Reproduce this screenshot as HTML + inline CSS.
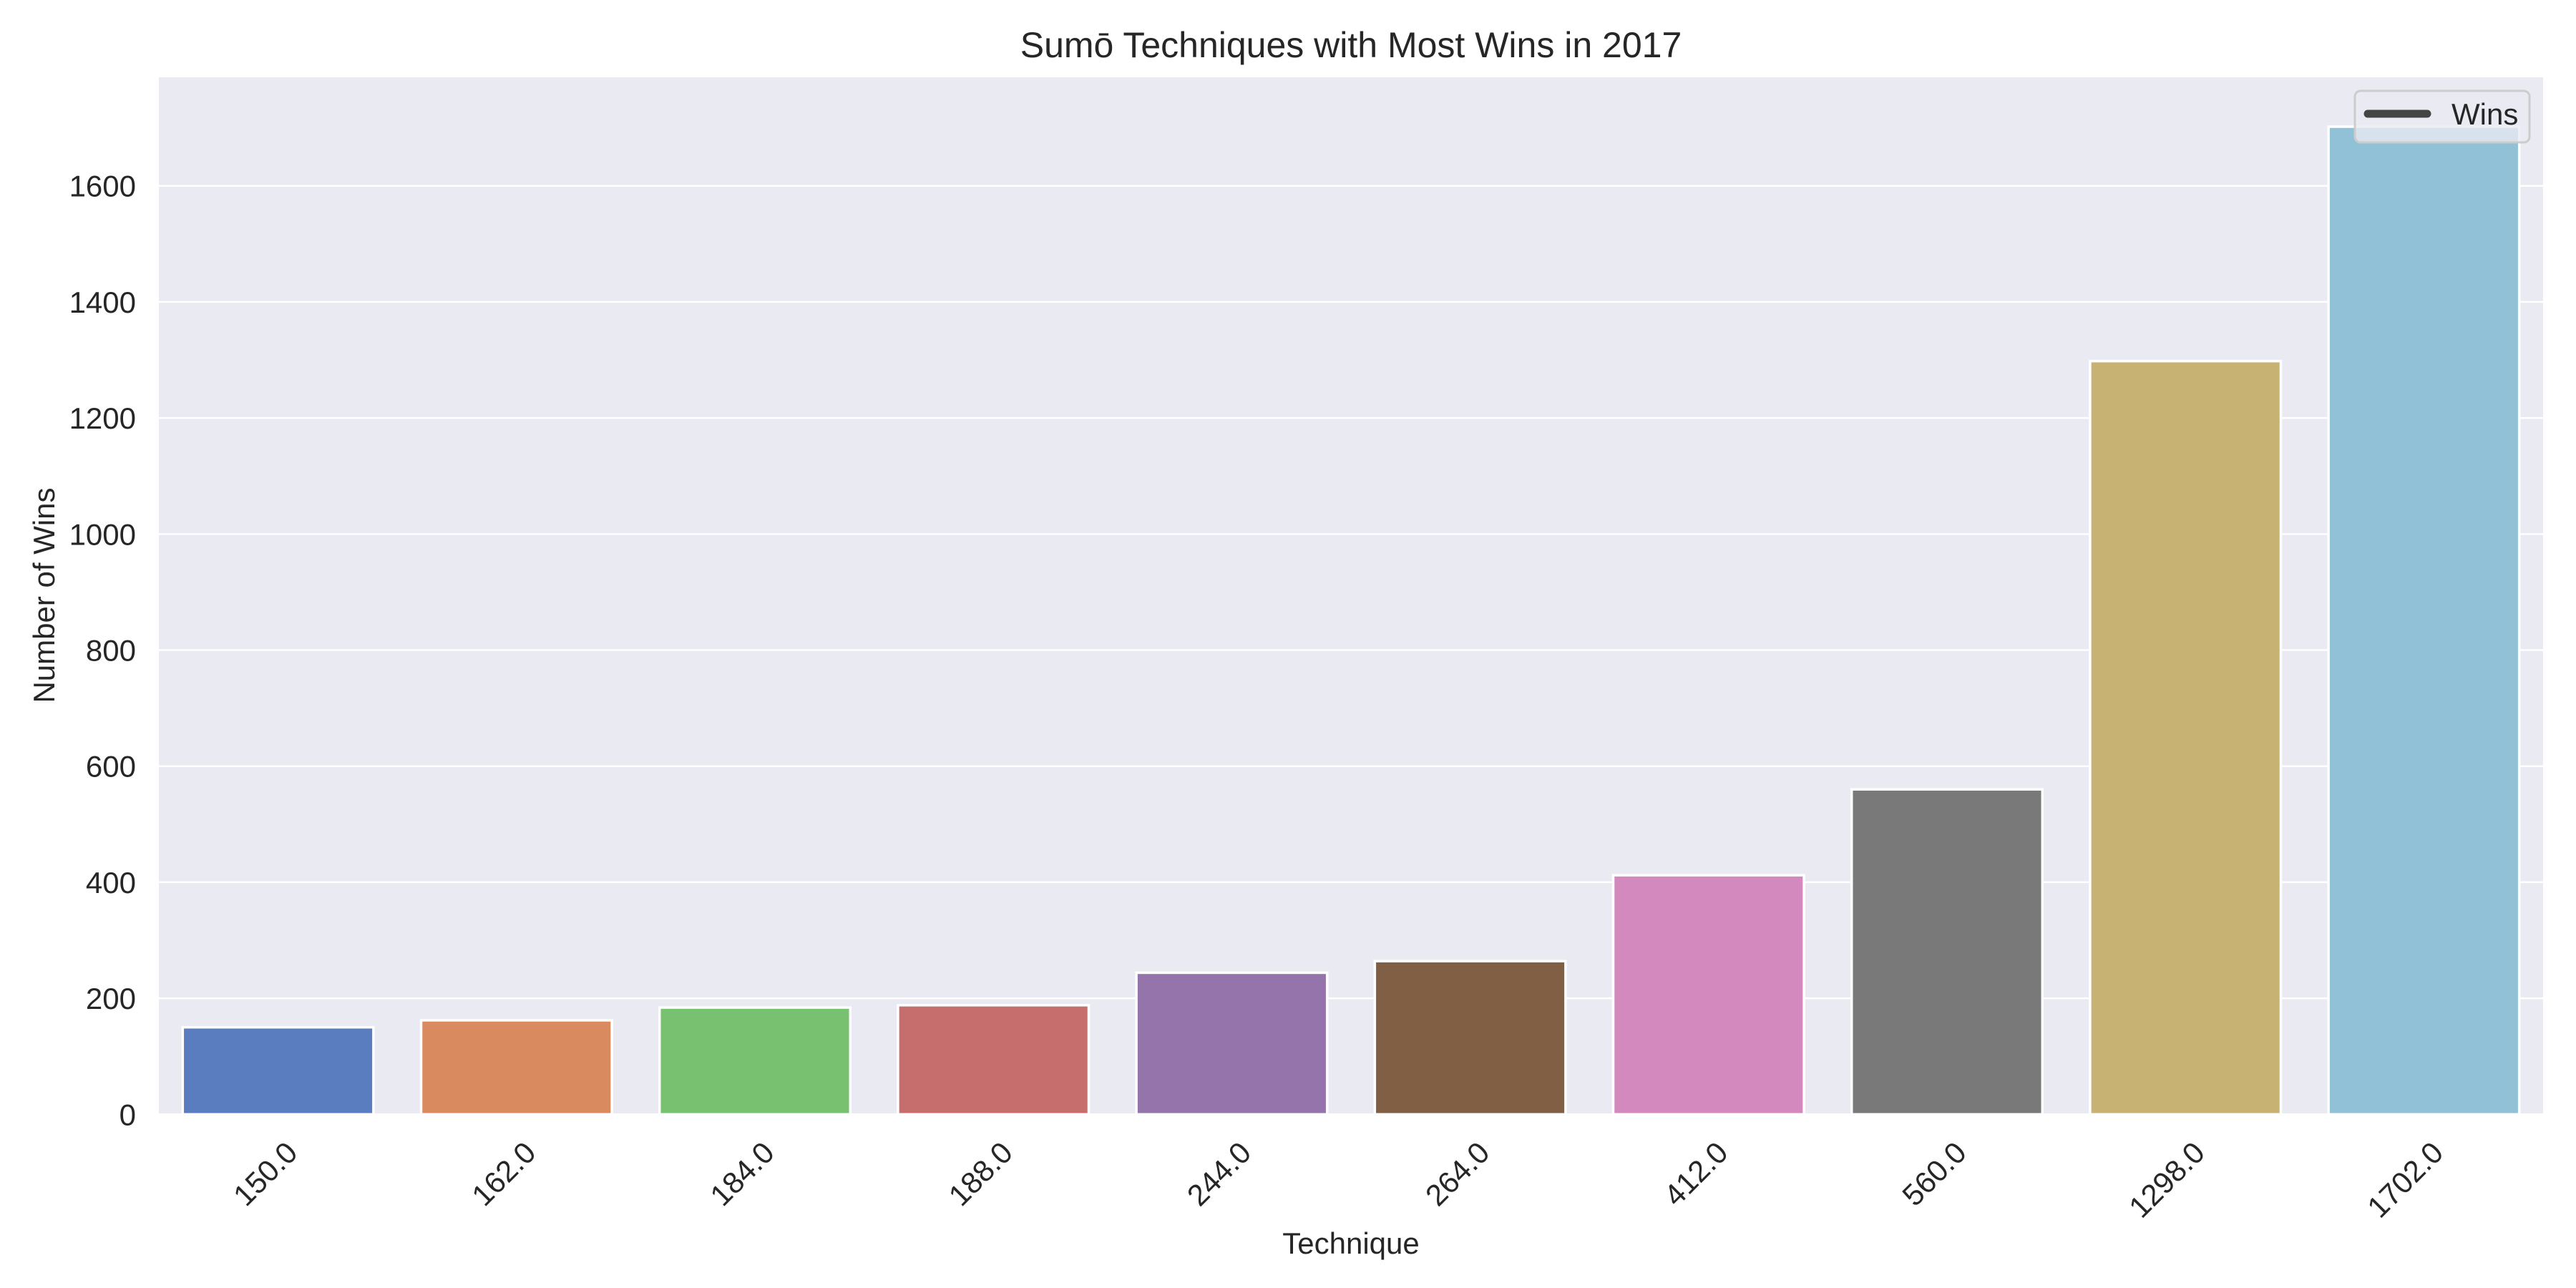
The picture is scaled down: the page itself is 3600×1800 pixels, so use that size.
<!DOCTYPE html>
<html><head><meta charset="utf-8"><style>
html,body{margin:0;padding:0;background:#fff;}
svg{display:block;font-family:"Liberation Sans",Arial,sans-serif;}
</style></head><body>
<svg id="chart" width="3600" height="1800" viewBox="0 0 3600 1800" xmlns="http://www.w3.org/2000/svg">
<rect width="3600" height="1800" fill="#fff"/>
<rect x="222" y="108" width="3332" height="1449.5" fill="#eaeaf2"/>
<g id="grid"></g>
<g id="bars"></g>
<g id="yticks"></g>
<g id="xticks"></g>
<text x="1888" y="80" font-size="50" text-anchor="middle" fill="#262626">Sumō Techniques with Most Wins in 2017</text>
<text x="1888" y="1752" font-size="42" text-anchor="middle" fill="#262626">Technique</text>
<text transform="translate(76,832) rotate(-90)" font-size="42" text-anchor="middle" fill="#262626">Number of Wins</text>
<g>
<rect x="3291" y="127" width="244" height="72" rx="8" fill="rgba(234,234,242,0.8)" stroke="#cccccc" stroke-width="3"/>
<line x1="3309" y1="159" x2="3392" y2="159" stroke="#444" stroke-width="11" stroke-linecap="round"/>
<text x="3426" y="174" font-size="42" fill="#262626">Wins</text>
</g>
</svg>
<script>
const categories = ["150.0","162.0","184.0","188.0","244.0","264.0","412.0","560.0","1298.0","1702.0"];
const wins = [150,162,184,188,244,264,412,560,1298,1702];
const yTicks = [0,200,400,600,800,1000,1200,1400,1600];
const colors = ["#5a7dc0","#d98b5f","#77c170","#c66d6d","#9474ab","#815f45","#d389bd","#797979","#c7b274","#90c1d6"];

const NS = "http://www.w3.org/2000/svg";
const plotL = 222, plotR = 3554, plotT = 108, plotB = 1557.3;
const yMax = Math.max(...wins) * 1.05;
const y = v => plotB - v / yMax * (plotB - plotT);
const band = (plotR - plotL) / categories.length;
const xc = i => plotL + band * (i + 0.5);

function mk(tag, attrs, parent, txt) {
  const e = document.createElementNS(NS, tag);
  for (const k in attrs) e.setAttribute(k, attrs[k]);
  if (txt !== undefined) e.textContent = txt;
  parent.appendChild(e);
  return e;
}
const grid = document.getElementById('grid');
const yt = document.getElementById('yticks');
yTicks.forEach(t => {
  const l = mk('line', {x1: plotL, x2: plotR, y1: y(t), y2: y(t), stroke: '#fff', 'stroke-width': 2.5}, grid);
  
  
  const tx = mk('text', {x: 190, y: y(t) + 15, 'font-size': 42, 'text-anchor': 'end', fill: '#262626'}, yt, String(t));
  
  
});
const bars = document.getElementById('bars');
const xt = document.getElementById('xticks');
wins.forEach((v, i) => {
  const w = band * 0.8;
  const r = mk('rect', {x: xc(i) - w / 2, y: y(v), width: w, height: plotB - y(v), fill: colors[i], stroke: '#fff', 'stroke-width': 3.5}, bars);
  
  
  const t = mk('text', {transform: 'translate(' + (xc(i) + 8) + ',1592) rotate(-45)', 'font-size': 42, 'text-anchor': 'end', 'dominant-baseline': 'hanging', fill: '#262626'}, xt, categories[i]);
  
  
});
</script>
</body></html>
